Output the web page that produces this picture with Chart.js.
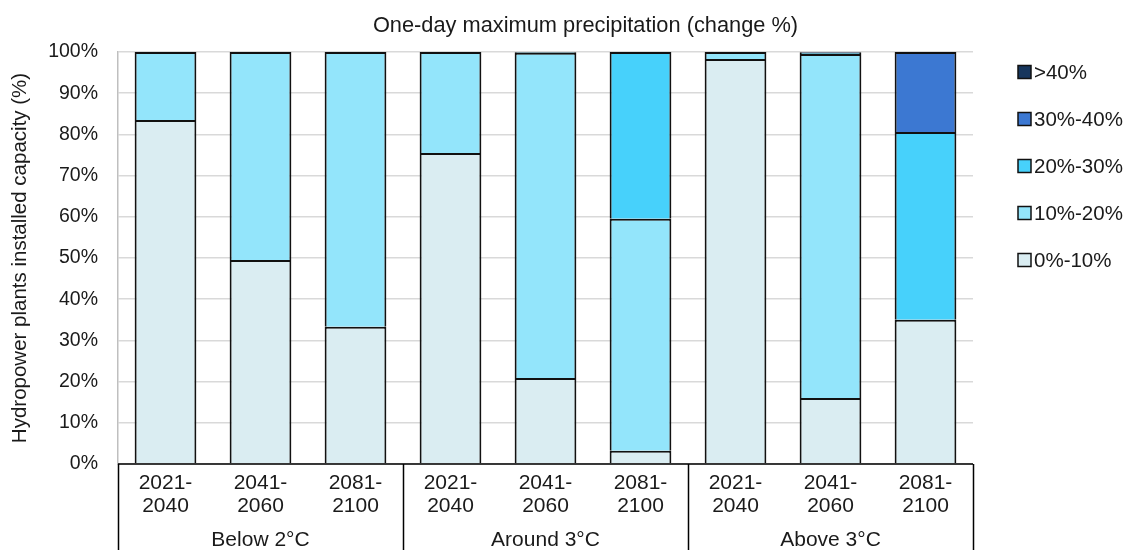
<!DOCTYPE html>
<html>
<head>
<meta charset="utf-8">
<script src="https://cdn.jsdelivr.net/npm/chart.js@4.4.0/dist/chart.umd.min.js"></script>
<style>
  html, body { margin: 0; padding: 0; background: #fff; }
  #wrap { width: 1126px; height: 550px; }
</style>
</head>
<body>
<div id="wrap"><canvas id="precipChart" width="1126" height="550"></canvas></div>
<script>
// Data
const periods = [['2021-', '2040'], ['2041-', '2060'], ['2081-', '2100']];
const scenarios = ['Below 2°C', 'Around 3°C', 'Above 3°C'];
const categories = scenarios.flatMap(() => periods);

const band0to10  = [83.5, 49.5, 33.3, 75.5, 20.9, 3.2, 98.3, 16.0, 35.0];
const band10to20 = [16.5, 50.5, 66.7, 24.5, 78.9, 56.3, 1.7, 83.5, 0];
const band20to30 = [0, 0, 0, 0, 0.2, 40.5, 0, 0.3, 45.6];
const band30to40 = [0, 0, 0, 0, 0, 0, 0, 0.2, 19.4];
const bandOver40 = [0, 0, 0, 0, 0, 0, 0, 0, 0];

const bandLabels = ['0%-10%', '10%-20%', '20%-30%', '30%-40%', '>40%'];
const bandColors = ['#daedf2', '#93e5fb', '#47d1fb', '#3c78d2', '#17365d'];
const yTicks = [0, 10, 20, 30, 40, 50, 60, 70, 80, 90, 100];

const chartTitle = 'One-day maximum precipitation (change %)';

const FONT = "'Liberation Sans', Arial, sans-serif";
const TEXT = '#1a1a1a';

// Group labels + separators under the axis
const groupAxis = {
  id: 'groupAxis',
  afterDraw(chart) {
    const { ctx, chartArea, scales } = chart;
    const x = scales.x;
    const bottom = chart.height;
    const edge = i => {
      if (i <= 0) return chartArea.left;
      if (i >= categories.length) return chartArea.right;
      return (x.getPixelForValue(i - 1) + x.getPixelForValue(i)) / 2;
    };
    ctx.save();
    ctx.strokeStyle = '#000';
    ctx.lineWidth = 1.5;
    ctx.beginPath();
    ctx.moveTo(chartArea.left, chartArea.bottom);
    ctx.lineTo(chartArea.right, chartArea.bottom);
    for (let g = 0; g <= scenarios.length; g++) {
      const px = Math.round(edge(g * periods.length)) + 0.5;
      ctx.moveTo(px, chartArea.bottom);
      ctx.lineTo(px, bottom);
    }
    ctx.stroke();
    ctx.fillStyle = TEXT;
    ctx.font = '21px ' + FONT;
    ctx.textAlign = 'center';
    ctx.textBaseline = 'middle';
    scenarios.forEach((s, g) => {
      const mid = (edge(g * periods.length) + edge((g + 1) * periods.length)) / 2;
      ctx.fillText(s, mid, bottom - 10);
    });
    ctx.restore();
  }
};

// Title (sits a bit right of the plot centre) and the legend column
const sideText = {
  id: 'sideText',
  afterDraw(chart) {
    const { ctx, chartArea } = chart;
    ctx.save();
    ctx.fillStyle = TEXT;
    ctx.textBaseline = 'middle';
    ctx.font = '21.8px ' + FONT;
    ctx.textAlign = 'center';
    ctx.fillText(chartTitle, (chartArea.left + chartArea.right) / 2 + 40, 26);

    ctx.font = '20.5px ' + FONT;
    ctx.textAlign = 'left';
    ctx.lineWidth = 1.5;
    ctx.strokeStyle = '#111';
    const order = bandLabels.map((_, i) => i).reverse();
    order.forEach((i, row) => {
      const cy = chartArea.top + 20 + row * 47;
      const bx = chartArea.right + 45;
      ctx.fillStyle = bandColors[i];
      ctx.fillRect(bx, cy - 6.5, 13, 13);
      ctx.strokeRect(bx, cy - 6.5, 13, 13);
      ctx.fillStyle = TEXT;
      ctx.fillText(bandLabels[i], bx + 16, cy + 1);
    });
    ctx.restore();
  }
};

document.addEventListener('DOMContentLoaded', () => {
  const ctx = document.getElementById('precipChart').getContext('2d');
  const bands = [band0to10, band10to20, band20to30, band30to40, bandOver40];
  new Chart(ctx, {
    type: 'bar',
    data: {
      labels: categories,
      datasets: bands.map((vals, i) => ({
        label: bandLabels[i],
        data: vals.map(v => (v > 0 ? v : null)), // skip empty segments
        backgroundColor: bandColors[i],
        borderColor: '#111',
        borderWidth: 2,
        borderSkipped: 'bottom', // segment below already draws the divider
        barPercentage: 0.65,
        categoryPercentage: 1
      }))
    },
    options: {
      responsive: false,
      animation: false,
      layout: { padding: { left: 0, right: 153, top: 52, bottom: 0 } },
      scales: {
        x: {
          stacked: true,
          grid: { display: false, drawTicks: false },
          border: { display: false },
          ticks: {
            color: TEXT,
            font: { size: 21, family: FONT, lineHeight: 1.1 },
            padding: 8,
            maxRotation: 0
          },
          afterFit(scale) { scale.height = 86; }
        },
        y: {
          stacked: true,
          min: 0,
          max: 100,
          afterBuildTicks(scale) { scale.ticks = yTicks.map(v => ({ value: v })); },
          grid: { color: '#d9d9d9', lineWidth: 1.5, drawTicks: false },
          border: { color: '#bfbfbf', width: 1.5 },
          ticks: {
            color: TEXT,
            font: { size: 19.5, family: FONT },
            padding: 20,
            callback: v => v + '%'
          },
          title: {
            display: true,
            text: 'Hydropower plants installed capacity (%)',
            color: TEXT,
            font: { size: 20.5, family: FONT },
            padding: { top: 8, bottom: 0 }
          },
          afterFit(scale) { scale.width = 118; }
        }
      },
      plugins: {
        title: { display: false },
        legend: { display: false },
        tooltip: { enabled: false }
      }
    },
    plugins: [groupAxis, sideText]
  });
});
</script>
</body>
</html>
